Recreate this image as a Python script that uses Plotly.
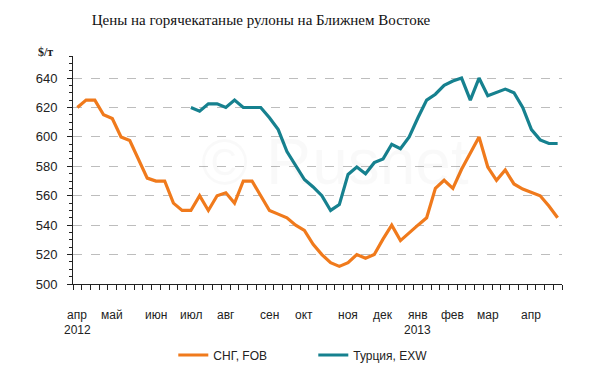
import plotly.graph_objects as go

# weekly observations, Apr 2012 - Apr 2013 (56 weeks)
cis_fob = [620, 625, 625, 615, 612.5, 600, 597.5, 585, 572, 570, 570, 555, 550, 550,
           560, 550, 560, 562, 555, 570, 570, 560, 550, 547.5, 545, 540, 536.5, 527,
           520, 514.5, 512, 514.5, 520, 517.5, 520, 530.5, 540, 529.5, 535, 540, 545,
           565, 570.5, 565, 578, 589, 600, 579.5, 570.5, 577.5, 568, 564.5, 562, 560,
           553, 545]
turkey_exw = [None] * 13 + [620, 617.5, 622.5, 622.5, 620, 625, 620, 620, 620, 613,
              605, 590, 580, 571, 566, 560, 550, 554, 574.5, 579.5, 575, 582.5, 585,
              595, 592, 600, 613, 625, 629, 635, 638, 640, 625, 640, 628, 630, 632.5,
              630, 620, 605, 598, 595.5, 595.5]
weeks = list(range(len(cis_fob)))

month_labels = ["апр", "май", "июн", "июл", "авг", "сен", "окт", "ноя", "дек",
                "янв", "фев", "мар", "апр"]
month_pos = [0, 4, 9, 13, 17, 22, 26, 31, 35, 39, 43, 47, 52]
year_labels = ["2012", "2013"]
year_pos = [0, 39]
y_ticks = [500, 520, 540, 560, 580, 600, 620, 640]

ORANGE = "#F07A1C"
TEAL = "#16818F"
SANS = "Liberation Sans"

# page body has an 8px offset; figure is sized to fit the window
OFF = 8
W, H = 600 - OFF, 380 - OFF
PL, PT, PW, PH = 72.7, 56, 489, 229   # plot area in window pixels


def px_x(wx):
    return (wx - PL) / PW


def px_y(wy):
    return (PT + PH - wy) / PH


fig = go.Figure()
fig.add_trace(go.Scatter(x=weeks, y=cis_fob, mode="lines", name="СНГ, FOB",
                         line=dict(color=ORANGE, width=3.2)))
fig.add_trace(go.Scatter(x=weeks, y=turkey_exw, mode="lines", name="Турция, EXW",
                         line=dict(color=TEAL, width=3.2)))

annotations = []
for lab, p in zip(month_labels, month_pos):
    annotations.append(dict(x=p, y=px_y(316), xref="x", yref="paper", yanchor="middle",
                            xanchor="center", text=lab, showarrow=False,
                            font=dict(family=SANS, size=12, color="#222")))
for lab, p in zip(year_labels, year_pos):
    annotations.append(dict(x=p, y=px_y(331), xref="x", yref="paper", yanchor="middle",
                            xanchor="center", text=lab, showarrow=False,
                            font=dict(family=SANS, size=12, color="#222")))
annotations.append(dict(x=px_x(45), y=px_y(52), xref="paper", yref="paper",
                        xanchor="center", yanchor="middle", text="<b>$/т</b>", showarrow=False,
                        font=dict(family="Liberation Serif", size=12, color="#222")))
annotations.append(dict(x=px_x(335), y=px_y(162), xref="paper", yref="paper",
                        xanchor="center", yanchor="middle",
                        text="© Rusnet", showarrow=False,
                        font=dict(family=SANS, size=64, color="rgba(0,0,0,0.025)")))

fig.update_layout(
    width=W, height=H,
    margin=dict(l=PL - OFF, r=W - (PL - OFF) - PW, t=PT - OFF, b=H - (PT - OFF) - PH),
    paper_bgcolor="white", plot_bgcolor="white",
    title=dict(text="Цены на горячекатаные рулоны на Ближнем Востоке",
               x=(261 - OFF) / W, xanchor="center", y=1 - (20 - OFF) / H, yanchor="middle",
               font=dict(family="Liberation Serif", size=15, color="#111")),
    showlegend=True,
    legend=dict(orientation="h", x=px_x(173), xanchor="left", y=px_y(355), yanchor="middle",
                font=dict(family=SANS, size=12, color="#222"), itemwidth=30,
                entrywidth=95, bgcolor="rgba(0,0,0,0)"),
    xaxis=dict(range=[-0.5, 55.5], showgrid=False, zeroline=False,
               tickvals=[k - 0.5 for k in range(57)], ticktext=[""] * 57,
               ticks="outside", ticklen=5, tickcolor="#222", showline=True,
               linecolor="#222", linewidth=1, automargin=False),
    yaxis=dict(range=[500, 655], tickvals=y_ticks, showline=True, linecolor="#222",
               linewidth=1, ticks="outside", ticklen=5, tickcolor="#222",
               showgrid=True, gridcolor="#BDBDBD", griddash="dash", gridwidth=1,
               zeroline=False, ticklabelstandoff=7, automargin=False,
               tickfont=dict(family=SANS, size=13, color="#222"),
               minor=dict(dtick=5, ticks="outside", ticklen=3, tickcolor="#222", showgrid=False)),
    annotations=annotations,
)

fig.write_html("out.html")
